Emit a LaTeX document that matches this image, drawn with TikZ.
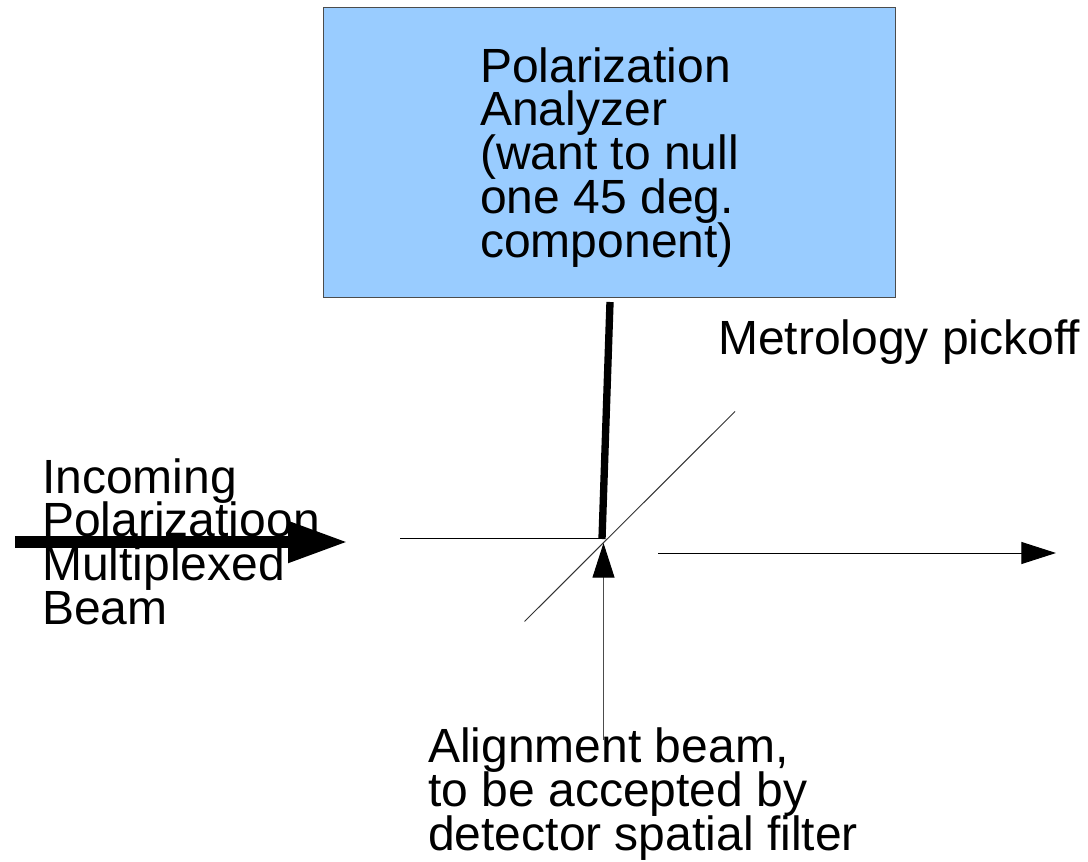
\documentclass[tikz,border=0pt]{standalone}
\usepackage{fontspec}
\setmainfont{Liberation Sans}
\usetikzlibrary{arrows.meta,positioning}
\definecolor{boxblue}{RGB}{153,204,255}
\newcommand{\lblfont}{\fontsize{36}{32.9}\selectfont\setlength{\lineskiplimit}{-20pt}}
\tikzset{
  lbl/.style={inner sep=0pt,align=left,font=\lblfont,anchor=north west},
  thin line/.style={line width=0.75pt},
  tip/.style={-{Triangle[length=26pt,width=16.5pt]}}
}
\begin{document}
\begin{tikzpicture}[x=0.75pt,y=-0.75pt]
\useasboundingbox (0,0) rectangle (1088,862);
% box
\node (analyzer) [draw=black!70,thin line,fill=boxblue,minimum width=429pt,minimum height=217.5pt,anchor=north west,inner sep=0pt] at (322.5,7.5) {};
\node (analyzertxt) [lbl] at (480,47) {Polarization\\Analyzer\\(want to null\\one 45 deg.\\component)};
% labels
\node (pickoff) [lbl] at (718,319) {Metrology pickoff};
\node (incoming) [lbl] at (42,458) {Incoming\\Polarizatioon\\Multiplexed\\Beam};
\node (alignment) [lbl] at (428,727.5) {Alignment beam,\\to be accepted by\\detector spatial filter};
% points
\coordinate (mid) at (603,538);
\coordinate (pickhi) at (735,411.5);
\coordinate (picklo) at (524.5,621.5);
\coordinate (left) at (400,538);
\coordinate (anabot) at (610,302);
\coordinate (midb) at (602,539);
\coordinate (inA) at (15,542);
\coordinate (inB) at (348,542);
\coordinate (outA) at (658,553);
\coordinate (outB) at (1056,553);
\coordinate (alA) at (603.5,740);
\coordinate (alB) at (603.5,543);
% edges
\draw[thin line] (left) -- (mid);
\draw[thin line,black!80] (picklo) -- (pickhi);
\draw[line width=5.5pt] (anabot) -- (midb);
\draw[line width=9pt,-{Triangle[length=45pt,width=29pt]}] (inA) -- (inB);
\draw[thin line,tip] (outA) -- (outB);
\draw[thin line,black!70,-{Triangle[length=26pt,width=16.5pt,black]}] (alA) -- (alB);
\end{tikzpicture}
\end{document}
